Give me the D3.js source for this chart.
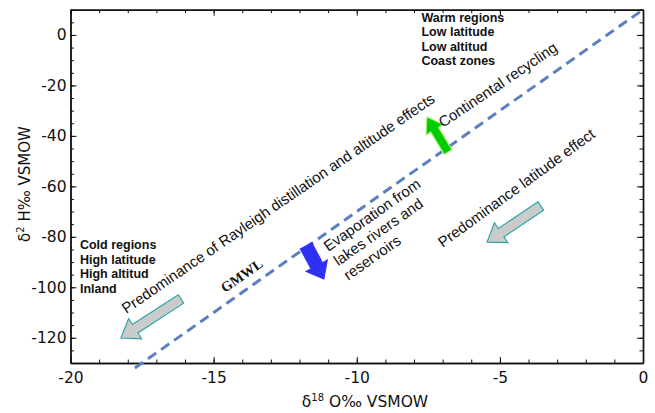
<!DOCTYPE html>
<html>
<head>
<meta charset="utf-8">
<script src="https://cdn.jsdelivr.net/npm/d3@7"></script>
<style>
  body { margin: 0; background: #fff; }
  .tick text { font-family: "DejaVu Sans", sans-serif; font-size: 15.5px; fill: #111; }
  .axis path, .axis line { stroke: #111; }
  .note { font-family: "Liberation Sans", Arial, sans-serif; font-size: 15px; fill: #111; }
  .block { font-family: "Liberation Sans", Arial, sans-serif; font-size: 12.5px; font-weight: bold; fill: #111; }
</style>
</head>
<body>
<svg id="chart" width="655" height="413"></svg>
<script>
// axis values
const xTicks = [-20, -15, -10, -5, 0]
const yTicks = [0, -20, -40, -60, -80, -100, -120]

// global meteoric water line, two end points (d18O, d2H)
const gmwlPoints = [[-17.75, -132], [0, 10]]

// block arrows: tail -> tip in data units
const arrowNames = ["recycling", "evaporation", "coldShift", "latitudeShift"]
const arrowTails = [[-6.81, -46.4], [-11.77, -83.6], [-16.14, -104.6], [-3.57, -67.8]]
const arrowTips = [[-7.55, -32.5], [-11.15, -96.7], [-18.24, -120.1], [-5.45, -82.1]]

// rotated notes along the line
const noteTexts = [
  ["Predominance of Rayleigh distillation and altitude effects"],
  ["Continental recycling"],
  ["Predominance latitude effect"],
  ["Evaporation from", "lakes rivers and", "reservoirs"]
]
const noteAnchors = [[-18.05, -110.6], [-6.99, -36.9], [-7.0, -84.4], [-11.0, -86.0]]

// corner labels
const warmLines = ["Warm regions", "Low latitude", "Low altitud", "Coast zones"]
const coldLines = ["Cold regions", "High latitude", "High altitud", "Inland"]
const warmAnchor = [-7.74, 5.3]
const coldAnchor = [-19.67, -84.8]
const gmwlLabel = "GMWL"
const gmwlAnchor = [-14.6, -102.3]

const svg = d3.select("#chart")
const plotLeft = 70.5, plotRight = 643, plotTop = 9.7, plotBottom = 363

const x = d3.scaleLinear().domain([-20, 0]).range([plotLeft, plotRight])
const y = d3.scaleLinear().domain([-130, 10]).range([plotBottom, plotTop])

const xMinor = d3.range(-20, 0.5, 1)
const yMinor = d3.range(-130, 10.5, 5)
const plain = d => String(d)

// minor ticks first, then majors with labels
svg.append("g").attr("class", "axis").attr("transform", `translate(0,${plotBottom})`)
  .call(d3.axisBottom(x).tickValues(xMinor).tickSize(-3.5).tickSizeOuter(0).tickFormat(""))
svg.append("g").attr("class", "axis").attr("transform", `translate(0,${plotBottom})`)
  .call(d3.axisBottom(x).tickValues(xTicks).tickSize(-6).tickSizeOuter(0).tickPadding(9).tickFormat(plain))
svg.append("g").attr("class", "axis").attr("transform", `translate(0,${plotTop})`)
  .call(d3.axisTop(x).tickValues(xMinor).tickSize(-3.5).tickSizeOuter(0).tickFormat(""))
svg.append("g").attr("class", "axis").attr("transform", `translate(0,${plotTop})`)
  .call(d3.axisTop(x).tickValues(xTicks).tickSize(-6).tickSizeOuter(0).tickFormat(""))

svg.append("g").attr("class", "axis").attr("transform", `translate(${plotLeft},0)`)
  .call(d3.axisLeft(y).tickValues(yMinor).tickSize(-3.5).tickSizeOuter(0).tickFormat(""))
svg.append("g").attr("class", "axis").attr("transform", `translate(${plotLeft},0)`)
  .call(d3.axisLeft(y).tickValues(yTicks).tickSize(-6).tickSizeOuter(0).tickPadding(4).tickFormat(plain))
svg.append("g").attr("class", "axis").attr("transform", `translate(${plotRight},0)`)
  .call(d3.axisRight(y).tickValues(yMinor).tickSize(-3.5).tickSizeOuter(0).tickFormat(""))
svg.append("g").attr("class", "axis").attr("transform", `translate(${plotRight},0)`)
  .call(d3.axisRight(y).tickValues(yTicks).tickSize(-6).tickSizeOuter(0).tickFormat(""))

svg.selectAll(".axis path.domain").attr("stroke-width", 1.4)
svg.selectAll(".axis .tick line").attr("stroke-width", 1)

// axis titles
const xTitle = svg.append("text")
  .attr("x", 365).attr("y", 407)
  .attr("text-anchor", "middle")
  .style("font-family", "DejaVu Sans, sans-serif").style("font-size", "15.5px").style("fill", "#111")
xTitle.append("tspan").text("δ")
xTitle.append("tspan").attr("dy", -6).style("font-size", "10px").text("18")
xTitle.append("tspan").attr("dy", 6).text(" O‰ VSMOW")

const yTitle = svg.append("text")
  .attr("transform", `translate(29.5,184) rotate(-90)`)
  .attr("text-anchor", "middle")
  .style("font-family", "DejaVu Sans, sans-serif").style("font-size", "15px").style("fill", "#111")
yTitle.append("tspan").text("δ")
yTitle.append("tspan").attr("dy", -6).style("font-size", "10px").text("2")
yTitle.append("tspan").attr("dy", 6).text(" H‰ VSMOW")

// GMWL dashed line
svg.append("path")
  .datum(gmwlPoints)
  .attr("d", d3.line().x(d => x(d[0])).y(d => y(d[1])))
  .attr("fill", "none")
  .attr("stroke", "#5b80bf")
  .attr("stroke-width", 3)
  .attr("stroke-dasharray", "10,6")

// block arrow outline, tail -> tip in pixels
function arrowPath(p0, p1, sw, hw, hl) {
  const dx = p1[0] - p0[0], dy = p1[1] - p0[1]
  const L = Math.hypot(dx, dy)
  const ux = dx / L, uy = dy / L, nx = -uy, ny = ux
  const pts = [[0, -sw], [L - hl, -sw], [L - hl, -hw], [L, 0], [L - hl, hw], [L - hl, sw], [0, sw]]
  return "M" + pts.map(([u, v]) => [p0[0] + ux * u + nx * v, p0[1] + uy * u + ny * v].join(",")).join("L") + "Z"
}

const arrowStyle = {
  recycling: { fill: "#00cc00", stroke: "#a6f56e", sw: 4.5, hw: 10, hl: 15 },
  evaporation: { fill: "#3030f5", stroke: "#3030f5", sw: 6.5, hw: 12, hl: 15 },
  coldShift: { fill: "#cbcbcb", stroke: "#22a3a3", sw: 5, hw: 12, hl: 17 },
  latitudeShift: { fill: "#cbcbcb", stroke: "#22a3a3", sw: 5, hw: 12, hl: 17 }
}

svg.selectAll("path.arrow")
  .data(arrowNames)
  .enter()
  .append("path")
  .attr("class", "arrow")
  .attr("d", (d, i) => {
    const s = arrowStyle[d]
    const p0 = [x(arrowTails[i][0]), y(arrowTails[i][1])]
    const p1 = [x(arrowTips[i][0]), y(arrowTips[i][1])]
    return arrowPath(p0, p1, s.sw, s.hw, s.hl)
  })
  .attr("fill", d => arrowStyle[d].fill)
  .attr("stroke", d => arrowStyle[d].stroke)
  .attr("stroke-width", 1.1)
  .attr("stroke-linejoin", "miter")

// rotated notes
const noteAngle = [-34.5, -34, -36, -35]
const notes = svg.selectAll("text.note")
  .data(noteTexts)
  .enter()
  .append("text")
  .attr("class", "note")
  .attr("transform", (d, i) => `translate(${x(noteAnchors[i][0])},${y(noteAnchors[i][1])}) rotate(${noteAngle[i]})`)

notes.selectAll("tspan")
  .data(d => d)
  .enter()
  .append("tspan")
  .attr("x", 0)
  .attr("dy", (d, j) => j === 0 ? 0 : 17.5)
  .text(d => d)

// corner label blocks
function block(lines, anchor) {
  const t = svg.append("text").attr("class", "block")
    .attr("x", x(anchor[0])).attr("y", y(anchor[1]))
  t.selectAll("tspan")
    .data(lines)
    .enter()
    .append("tspan")
    .attr("x", x(anchor[0]))
    .attr("dy", (d, j) => j === 0 ? 0 : 14.6)
    .text(d => d)
}
block(warmLines, warmAnchor)
block(coldLines, coldAnchor)

svg.append("text")
  .attr("transform", `translate(${x(gmwlAnchor[0])},${y(gmwlAnchor[1])}) rotate(-35)`)
  .style("font-family", "Liberation Serif, Times New Roman, serif")
  .style("font-weight", "bold")
  .style("font-size", "14px")
  .style("fill", "#111")
  .text(gmwlLabel)
</script>
</body>
</html>
